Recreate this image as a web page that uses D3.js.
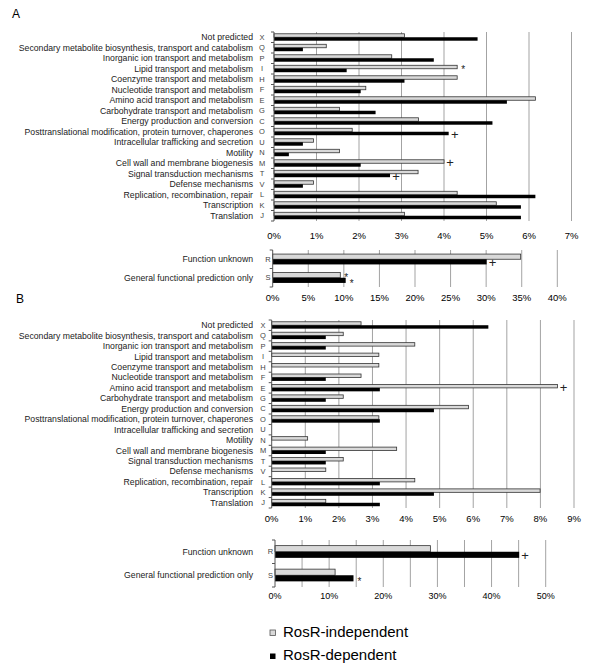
<!DOCTYPE html>
<html>
<head>
<meta charset="utf-8">
<script src="https://cdn.jsdelivr.net/npm/d3@7"></script>
<style>
  body { margin: 0; background: #fff; }
  text { font-family: "Liberation Sans", Arial, sans-serif; fill: #000; }
</style>
</head>
<body>
<script>
// COG categories (same order in both panels)
const codes = ['X', 'Q', 'P', 'I', 'H', 'F', 'E', 'G', 'C', 'O', 'U', 'N', 'M', 'T', 'V', 'L', 'K', 'J'];
const names = [
    'Not predicted',
    'Secondary metabolite biosynthesis, transport and catabolism',
    'Inorganic ion transport and metabolism',
    'Lipid transport and metabolism',
    'Coenzyme transport and metabolism',
    'Nucleotide transport and metabolism',
    'Amino acid transport and metabolism',
    'Carbohydrate transport and metabolism',
    'Energy production and conversion',
    'Posttranslational modification, protein turnover, chaperones',
    'Intracellular trafficking and secretion',
    'Motility',
    'Cell wall and membrane biogenesis',
    'Signal transduction mechanisms',
    'Defense mechanisms',
    'Replication, recombination, repair',
    'Transcription',
    'Translation'
];
const otherCodes = ['R', 'S'];
const otherNames = ['Function unknown', 'General functional prediction only'];
const seriesNames = ['RosR-independent', 'RosR-dependent'];

// panel A, % of genes
const aIndependent = [3.07, 1.23, 2.77, 4.31, 4.31, 2.16, 6.15, 1.54, 3.40, 1.84, 0.93, 1.54, 4.00, 3.39, 0.93, 4.31, 5.23, 3.07];
const aDependent   = [4.79, 0.68, 3.76, 1.71, 3.07, 2.04, 5.48, 2.39, 5.14, 4.11, 0.68, 0.35, 2.04, 2.73, 0.68, 6.15, 5.81, 5.81];
const aOtherIndependent = [34.85, 9.5];
const aOtherDependent   = [30.07, 10.26];

// panel B, % of genes
const bIndependent = [2.66, 2.13, 4.26, 3.19, 3.19, 2.66, 8.51, 2.13, 5.86, 3.19, 0, 1.07, 3.72, 2.13, 1.61, 4.26, 7.99, 1.61];
const bDependent   = [6.45, 1.61, 1.61, 0, 0, 1.61, 3.22, 1.61, 4.83, 3.22, 0, 0, 1.61, 1.61, 0, 3.22, 4.83, 3.22];
const bOtherIndependent = [28.7, 11.1];
const bOtherDependent   = [45.1, 14.5];

// axis ticks
const aTicks = [0, 1, 2, 3, 4, 5, 6, 7];
const aOtherTicks = [0, 5, 10, 15, 20, 25, 30, 35, 40];
const bTicks = [0, 1, 2, 3, 4, 5, 6, 7, 8, 9];
const bOtherTicks = [0, 10, 20, 30, 40, 50];
const bOtherGrid = [0, 5, 10, 15, 20, 25, 30, 35, 40, 45, 50];

// significance marks: [category, series index, symbol]
const aMarks = [['I', 0, '*'], ['O', 1, '+'], ['M', 0, '+'], ['T', 1, '+']];
const aOtherMarks = [['R', 1, '+'], ['S', 0, '*'], ['S', 1, '*']];
const bMarks = [['E', 0, '+']];
const bOtherMarks = [['R', 1, '+'], ['S', 1, '*']];

const svg = d3.select('body').append('svg')
    .attr('width', 600)
    .attr('height', 671);

function drawPanel(p) {
    const x = d3.scaleLinear().domain([0, p.xMax]).range([p.left, p.right]);
    const y = d3.scaleBand().domain(p.codes).range([p.top, p.bottom])
        .paddingInner(p.pad).paddingOuter(p.pad / 2);
    const ys = d3.scaleBand().domain([0, 1]).range([0, y.bandwidth()]);
    const g = svg.append('g');

    // vertical grid lines
    g.selectAll('.grid')
        .data(p.grid.filter(d => d > 0))
        .enter().append('line')
        .attr('x1', d => x(d)).attr('x2', d => x(d))
        .attr('y1', p.top).attr('y2', p.bottom)
        .attr('stroke', '#a3a3a3')
        .attr('stroke-width', 1);

    // tick labels
    g.selectAll('.tick')
        .data(p.ticks)
        .enter().append('text')
        .attr('x', d => x(d))
        .attr('y', p.tickY)
        .attr('text-anchor', 'middle')
        .style('font-size', p.tickSize + 'px')
        .text(d => d + '%');

    const rows = p.codes.map((c, i) => ({ code: c, name: p.names[i], v: [p.values[0][i], p.values[1][i]] }));
    const bars = [];
    rows.forEach(r => r.v.forEach((v, s) => { if (v > 0) bars.push({ code: r.code, s: s, v: v }); }));

    // bars
    g.selectAll('.bar')
        .data(bars)
        .enter().append('rect')
        .attr('x', x(0))
        .attr('y', d => y(d.code) + ys(d.s))
        .attr('width', d => x(d.v) - x(0))
        .attr('height', ys.bandwidth())
        .attr('fill', d => d.s === 0 ? '#d9d9d9' : '#000')
        .attr('stroke', d => d.s === 0 ? '#333' : 'none')
        .attr('stroke-width', 0.8);

    // left axis with ticks at band boundaries
    g.append('line')
        .attr('x1', x(0)).attr('x2', x(0))
        .attr('y1', p.top).attr('y2', p.bottom)
        .attr('stroke', '#555');
    g.selectAll('.ytick')
        .data(d3.range(p.codes.length + 1))
        .enter().append('line')
        .attr('x1', x(0) - 3).attr('x2', x(0))
        .attr('y1', i => p.top + i * y.step())
        .attr('y2', i => p.top + i * y.step())
        .attr('stroke', '#555');

    // category names and codes
    g.selectAll('.name')
        .data(rows)
        .enter().append('text')
        .attr('x', p.nameX)
        .attr('y', d => y(d.code) + y.bandwidth() / 2)
        .attr('dy', '0.35em')
        .attr('text-anchor', 'end')
        .style('font-size', p.nameSize + 'px')
        .style('fill', '#222')
        .text(d => d.name);
    g.selectAll('.code')
        .data(rows)
        .enter().append('text')
        .attr('x', p.codeX)
        .attr('y', d => y(d.code) + y.bandwidth() / 2)
        .attr('dy', '0.35em')
        .attr('text-anchor', 'middle')
        .style('font-size', '7.5px')
        .style('fill', '#444')
        .text(d => d.code);

    // significance marks after the bar end
    g.selectAll('.mark')
        .data(p.marks)
        .enter().append('text')
        .attr('x', m => x(p.values[m[1]][p.codes.indexOf(m[0])]) + 6)
        .attr('y', m => y(m[0]) + ys(m[1]) + ys.bandwidth() / 2)
        .attr('dy', m => m[2] === '+' ? '0.42em' : '0.62em')
        .attr('text-anchor', 'middle')
        .style('font-size', m => (m[2] === '+' ? 13 : 10) + 'px')
        .style('fill', '#222')
        .text(m => m[2]);
}

// panel A
drawPanel({
    codes: codes, names: names, values: [aIndependent, aDependent],
    xMax: 7, left: 274, right: 571.5, top: 32, bottom: 221, pad: 0.34,
    ticks: aTicks, grid: aTicks, tickY: 239, tickSize: 9.5,
    nameX: 253, codeX: 262, nameSize: 8.7, marks: aMarks
});
drawPanel({
    codes: otherCodes, names: otherNames, values: [aOtherIndependent, aOtherDependent],
    xMax: 40, left: 272.7, right: 557.3, top: 250, bottom: 287, pad: 0.44,
    ticks: aOtherTicks, grid: aOtherTicks, tickY: 300.5, tickSize: 9.5,
    nameX: 253, codeX: 268, nameSize: 8.7, marks: aOtherMarks
});

// panel B
drawPanel({
    codes: codes, names: names, values: [bIndependent, bDependent],
    xMax: 9, left: 271.7, right: 574, top: 320, bottom: 508, pad: 0.34,
    ticks: bTicks, grid: bTicks, tickY: 521.5, tickSize: 9.5,
    nameX: 253, codeX: 263, nameSize: 8.7, marks: bMarks
});
drawPanel({
    codes: otherCodes, names: otherNames, values: [bOtherIndependent, bOtherDependent],
    xMax: 50, left: 275, right: 545.7, top: 540, bottom: 587, pad: 0.48,
    ticks: bOtherTicks, grid: bOtherGrid, tickY: 599, tickSize: 9,
    nameX: 253, codeX: 270.5, nameSize: 8.7, marks: bOtherMarks
});

// panel letters
svg.append('text').attr('x', 12).attr('y', 18).style('font-size', '12px').text('A');
svg.append('text').attr('x', 16).attr('y', 303).style('font-size', '12px').text('B');

// legend
const legend = svg.selectAll('.legend')
    .data(seriesNames)
    .enter().append('g')
    .attr('transform', (d, i) => 'translate(270,' + (630 + i * 23.5) + ')');
legend.append('rect')
    .attr('width', 5.5).attr('height', 5.5)
    .attr('fill', (d, i) => i === 0 ? '#d9d9d9' : '#000')
    .attr('stroke', (d, i) => i === 0 ? '#555' : 'none')
    .attr('stroke-width', 0.8);
legend.append('text')
    .attr('x', 13)
    .attr('y', 6.5)
    .style('font-size', '15px')
    .text(d => d);
</script>
</body>
</html>
